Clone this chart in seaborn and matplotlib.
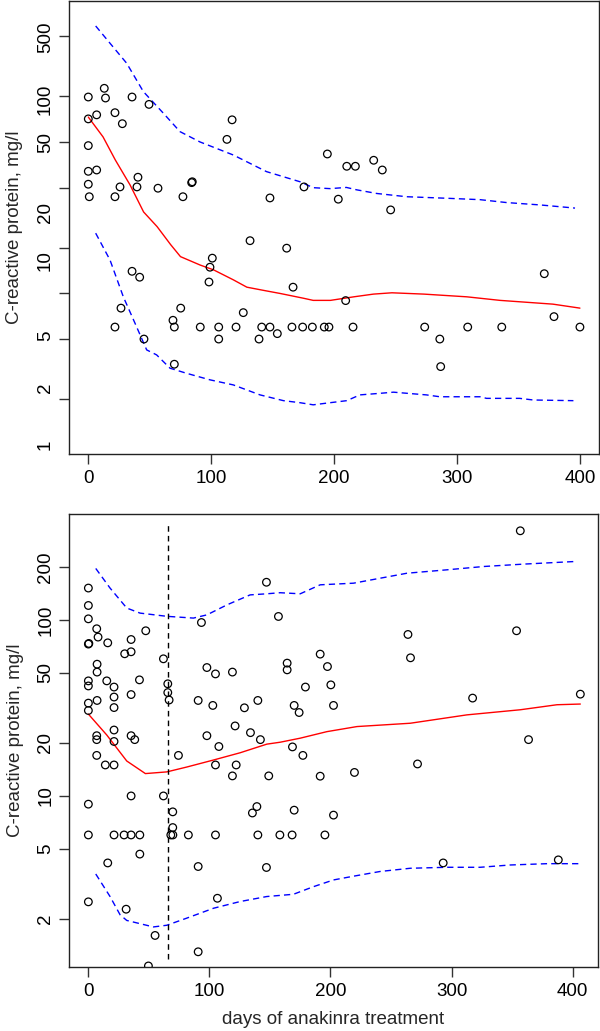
import numpy as np
import pandas as pd
import seaborn as sns
import matplotlib.pyplot as plt
from matplotlib.ticker import FixedLocator, NullFormatter

# --- top panel: observations ---
top_days = [0, 13, 14, 35.6, 49.4, 6.8, 0, 21.7, 27.7, 0, 0, 6.8, 0, 25.8, 39.6, 40.4,
            0.8, 21.7, 56.7, 77, 84.1, 84.6, 112.8, 117, 147.8, 131.6, 161.4, 194.5,
            210.3, 217.3, 232.2, 239.2, 175.5, 203.4, 246, 100.9, 99, 98.2, 166.6,
            35.6, 41.8, 26.6, 75.2, 126.1, 68.9,
            21.7, 70, 91.1, 106.1, 120.2, 141.1, 147.8, 165.7, 174.4, 182.3, 192,
            195.8, 215.4, 273.7, 308.7, 336.4, 400,
            45.3, 106.1, 138.9, 286, 153.8, 70, 286.7, 371, 209.4, 378.9]
top_crp = [198, 226, 195, 198, 177, 151, 142, 156, 132, 94.6, 64, 65.3, 52.6, 50.5, 50.5, 58.5,
           43.5, 43.5, 49.5, 43.5, 53.9, 54.6, 104, 140, 42.7, 22.3, 19.9, 83.3,
           69.1, 69.1, 75.7, 65.3, 50.5, 41.9, 35.6, 17.1, 14.9, 11.9, 11.0,
           14.0, 12.8, 8.0, 8.0, 7.47, 6.65,
           6, 6, 6, 6, 6, 6, 6, 6, 6, 6, 6,
           6, 6, 6, 6, 6, 6,
           5, 5, 5, 5, 5.43, 3.41, 3.29, 13.5, 8.97, 7.03]

# --- top panel: median and bounds ---
top_mid_days = [0, 12, 22, 34, 45, 56, 67, 75, 91, 102, 118, 129, 142, 156, 164, 175, 183,
                197, 216, 232, 247, 273, 308, 335, 378, 400]
top_mid = [146, 108, 76, 52, 34.5, 27.6, 21, 17.5, 15.4, 14.3, 12.3, 11.0, 10.5, 10.0, 9.7,
           9.3, 9.0, 9.0, 9.5, 9.9, 10.1, 9.9, 9.5, 9.0, 8.5, 8.0]
top_hi_days = [6, 17.7, 31.2, 44.8, 61, 74.6, 90.9, 118, 145, 172.3, 183, 196.7, 210, 218.4,
               234.7, 259, 291.6, 318.7, 340.4, 367.5, 396]
top_hi = [583, 448, 331, 215, 155, 117, 100, 82, 63.7, 54.6, 49.9, 49.2, 50.1, 48.3, 45.7,
          43.5, 42.5, 41.6, 39.8, 38.4, 36.6]
top_lo_days = [6, 17.7, 28.5, 38, 47.5, 55.6, 66.5, 80, 99, 118, 139.7, 158.8, 172.3, 183,
               196.7, 210.3, 221, 237, 248.3, 275, 286, 318.7, 324, 351, 362, 394.7]
top_lo = [25, 16.6, 9.5, 6.36, 4.24, 3.93, 3.21, 2.97, 2.69, 2.49, 2.14, 1.96, 1.90, 1.84,
          1.90, 1.96, 2.14, 2.19, 2.23, 2.14, 2.08, 2.08, 2.03, 2.03, 1.98, 1.96]

# --- bottom panel: observations ---
bot_days = [0, 0, 0, 6.9, 8, 0, 0.4, 16, 47.4, 35.3, 35.3, 30, 7.2, 7.2, 0, 0, 15.2, 21.2,
            21.2, 21.2, 7.2, 0, 0, 35.3, 42.2, 62, 65.6, 65.6, 66.7, 21.2, 21.2, 6.9, 6.9,
            35.3, 38.3, 6.9, 74.4, 93.4, 147.1, 157, 97.9, 105, 119, 90.7, 102.8, 128.9,
            140, 121.2, 97.9, 107.8, 133.9, 142.1, 164.2, 164.2, 170, 174.1, 168.6,
            356.8, 353.7, 264, 266.1, 191.5, 197.5, 200.3, 179.3, 202.5, 317.4, 406.4,
            363.6, 177.2, 271.9,
            14, 21.2, 105, 122.1, 119, 149, 0, 35.3, 62, 69.7, 69.7,
            0, 21.2, 29.5, 35.3, 42.5, 68.1, 69.8, 82.6, 105, 140, 158.2, 168.3, 195.4,
            135.5, 139.2, 170, 42.5, 16, 90.7, 147.1, 0, 31.2, 106.6, 55.1, 90.7, 49.6,
            191.5, 219.8, 202.5, 293.1, 388.2]
bot_crp = [152, 121, 101.6, 89.2, 80, 73, 73.6, 74.2, 86.9, 77.5, 66, 64.3, 56.1, 50.6, 45.1,
           42.2, 45.1, 41.6, 36.5, 31.8, 34.9, 33.7, 30.6, 37.7, 45.7, 60.2, 43.4, 38.7,
           35.1, 23.7, 20.4, 22.0, 20.9, 22.0, 20.9, 17.0, 17.0, 96.8, 164, 104.8, 53.7,
           49.4, 50.6, 34.9, 32.7, 31.7, 34.9, 25, 22.0, 19.1, 22.9, 20.9, 56.9, 52.1,
           32.7, 29.8, 19.0,
           321.7, 86.9, 82.8, 61, 64, 54.4, 42.8, 41.6, 32.7, 36, 37.9, 20.9, 17.0, 15.2,
           15.0, 15.0, 15.0, 15.0, 13.0, 13.0, 8.98, 10.0, 10.0, 8.12, 6.61,
           6, 6, 6, 6, 6, 6, 6, 6, 6, 6, 6, 6, 6,
           8.0, 8.7, 8.3, 4.67, 4.16, 3.97, 3.92, 2.5, 2.27, 2.62, 1.61, 1.30, 1.08,
           12.95, 13.6, 7.78, 4.16, 4.33]

# --- bottom panel: median and bounds ---
bot_mid_days = [0, 15.2, 31.7, 47.1, 64.8, 81.3, 103.3, 125.4, 147.4, 158.4, 175, 197,
                221.9, 265.9, 312.7, 356.8, 387.1, 406.4]
bot_mid = [29.2, 22.2, 15.8, 13.4, 13.7, 14.6, 16.0, 17.6, 19.7, 20.2, 21.3, 23.2, 24.8,
           25.9, 28.9, 30.9, 33.0, 33.3]
bot_hi_days = [6.1, 17.9, 31.7, 42.7, 64.8, 86.8, 97.9, 114.5, 133.6, 147.4, 158.4, 175,
               191.5, 219, 263.2, 296.2, 326.7, 359.8, 400.9]
bot_hi = [196.5, 152, 117, 109.5, 105, 102.6, 107, 122, 139, 141, 143, 141, 158.6, 162,
          184.6, 193, 201.6, 208, 215]
bot_lo_days = [6.1, 17.9, 26.2, 31.7, 53.7, 64.8, 81.3, 103.5, 125.4, 147.4, 169.4, 186,
               202.5, 219.3, 241, 265.9, 296.4, 323.7, 348.5, 379, 406.4]
bot_lo = [3.6, 2.68, 2.11, 1.96, 1.80, 1.84, 2.02, 2.30, 2.51, 2.68, 2.76, 3.05, 3.33,
          3.50, 3.72, 3.88, 3.93, 3.93, 4.05, 4.12, 4.12]

switch_day = 65.6
switch_span = [1.19, 352]

# axis ticks / labels
x_ticks = [0, 100, 200, 300, 400]
top_tick_marks = [1, 2, 5, 10, 20, 50, 100, 200, 500]
top_label_text = ['1', '2', '5', '10', '20', '50', '100', '500']
top_label_pos = [1, 2.38, 5.25, 16.4, 34.1, 98.5, 192, 493]
bot_ticks = [2, 5, 10, 20, 50, 100, 200]

sns.set_theme(style='ticks')
plt.rcParams['font.family'] = ['Liberation Sans', 'DejaVu Sans']

fig = plt.figure(figsize=(6, 10.31), dpi=100)
ax1 = fig.add_axes([0.115, 0.5597, 0.8833, 0.4394])
ax2 = fig.add_axes([0.115, 0.0624, 0.8817, 0.4391])

dash = (0, (4.5, 3))
pt_kw = dict(marker='o', s=30, facecolor='none', edgecolor='black', linewidth=0.9, zorder=3)


def draw_panel(ax, days, crp, mid_d, mid, hi_d, hi, lo_d, lo):
    sns.scatterplot(x=days, y=crp, ax=ax, **pt_kw)
    sns.lineplot(x=mid_d, y=mid, ax=ax, color='#ff0000', lw=1.0, estimator=None)
    sns.lineplot(x=hi_d, y=hi, ax=ax, color='#0000ff', lw=1.0, ls=dash, estimator=None)
    sns.lineplot(x=lo_d, y=lo, ax=ax, color='#0000ff', lw=1.0, ls=dash, estimator=None)
    ax.set_yscale('log')
    ax.set_xticks(x_ticks)
    ax.set_xticklabels([str(t) for t in x_ticks])
    ax.set_ylabel('C-reactive protein, mg/l', fontsize=13.5, labelpad=10)
    ax.tick_params(axis='both', which='both', direction='out', color='#333333',
                   width=1, labelsize=13.5, labelcolor='black')
    ax.tick_params(axis='x', length=7.5, pad=4)
    for sp in ax.spines.values():
        sp.set_color('#222222')
        sp.set_linewidth(1)


draw_panel(ax1, top_days, top_crp, top_mid_days, top_mid, top_hi_days, top_hi,
           top_lo_days, top_lo)
ax1.set_xlim(-15.7, 415.5)
ax1.set_ylim(0.872, 853)
ax1.yaxis.set_major_locator(FixedLocator(top_label_pos))
ax1.set_yticklabels(top_label_text)
ax1.yaxis.set_minor_locator(FixedLocator(top_tick_marks))
ax1.yaxis.set_minor_formatter(NullFormatter())
ax1.tick_params(axis='y', which='major', length=0, pad=11)
ax1.tick_params(axis='y', which='minor', length=7.5, width=1)

draw_panel(ax2, bot_days, bot_crp, bot_mid_days, bot_mid, bot_hi_days, bot_hi,
           bot_lo_days, bot_lo)
ax2.plot([switch_day, switch_day], switch_span, color='black', lw=1.0, ls=(0, (4, 3)))
ax2.set_xlim(-16, 421)
ax2.set_ylim(1.07, 401)
ax2.yaxis.set_major_locator(FixedLocator(bot_ticks))
ax2.set_yticklabels([str(t) for t in bot_ticks])
ax2.yaxis.set_minor_locator(FixedLocator([]))
ax2.tick_params(axis='y', which='major', length=7.5, pad=3)
ax2.set_xlabel('days of anakinra treatment', fontsize=13.5, labelpad=8)

for ax in (ax1, ax2):
    for tl in ax.get_yticklabels():
        tl.set_rotation(90)
        tl.set_va('center')

fig.savefig('out.png', dpi=100, facecolor='white')
